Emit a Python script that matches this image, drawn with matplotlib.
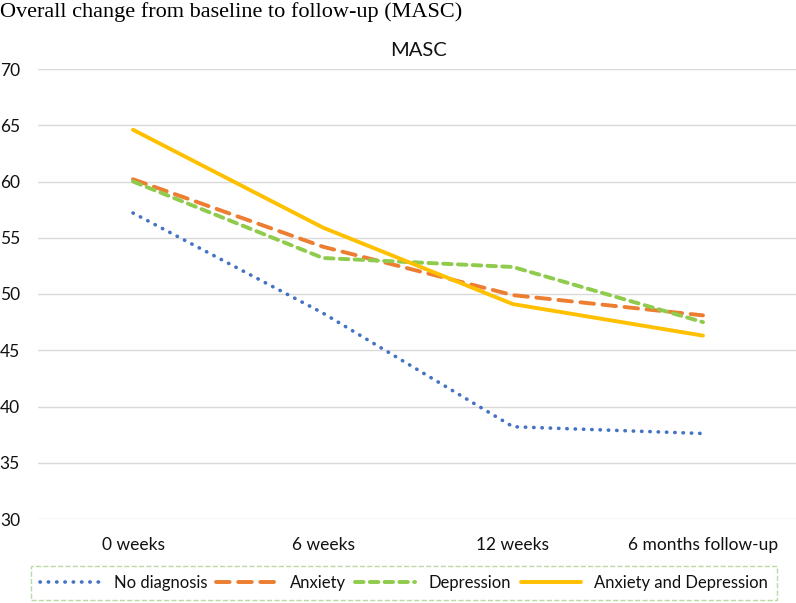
import matplotlib.pyplot as plt

timepoints = ["0 weeks", "6 weeks", "12 weeks", "6 months follow-up"]
no_diagnosis = [57.2, 48.3, 38.2, 37.6]
anxiety = [60.2, 54.2, 49.9, 48.1]
depression = [60.0, 53.2, 52.4, 47.5]
anx_and_dep = [64.6, 55.9, 49.1, 46.3]

plt.rcParams['font.family'] = ['Lato', 'DejaVu Sans']

fig = plt.figure(figsize=(7.96, 6.03), dpi=100)
ax = fig.add_axes([38 / 796, 84 / 603, 760 / 796, 450 / 603])

x = range(len(timepoints))
ax.plot(x, no_diagnosis, color='#4472C4', lw=2.6, linestyle=(0, (0.1, 2.2)),
        dash_capstyle='round', label='No diagnosis')
ax.plot(x, anxiety, color='#ED7D31', lw=2.8, linestyle=(0, (3.5, 2.2)),
        dash_capstyle='round', label='Anxiety')
ax.plot(x, depression, color='#8FCB4C', lw=2.8, linestyle=(0, (2.2, 1.6)),
        dash_capstyle='round', label='Depression')
ax.plot(x, anx_and_dep, color='#FFC000', lw=2.8, solid_capstyle='round',
        label='Anxiety and Depression')

ax.set_xlim(-0.5, 3.5)
ax.set_ylim(30, 70)
ax.set_yticks(range(30, 71, 5))
ax.set_xticks(list(x))
ax.set_xticklabels(timepoints)
ax.grid(axis='y', color='#D9D9D9', lw=1.0)
ax.set_axisbelow(True)
for s in ax.spines.values():
    s.set_visible(False)
ax.tick_params(length=0, labelsize=12.5, colors='#111111')
ax.tick_params(axis='y', pad=13)
ax.tick_params(axis='x', pad=13)

ax.set_title("MASC", fontsize=14.5, color='#111111', pad=9)
fig.text(0.0, 1 - 12 / 603, "Overall change from baseline to follow-up (MASC)",
         family='Liberation Serif', fontsize=16, va='center', ha='left')

leg = fig.legend(loc='lower left', bbox_to_anchor=(31 / 796, 3 / 603, 746 / 796, 33 / 603),
                 ncol=4, mode='expand', frameon=True, fontsize=12,
                 handlelength=3.6, borderaxespad=0, borderpad=0.55, fancybox=False)
fr = leg.get_frame()
fr.set_edgecolor('#A9D18E')
fr.set_linestyle('--')
fr.set_linewidth(1.0)
for t in leg.get_texts():
    t.set_color('#111111')

plt.savefig("out.png", dpi=100)
